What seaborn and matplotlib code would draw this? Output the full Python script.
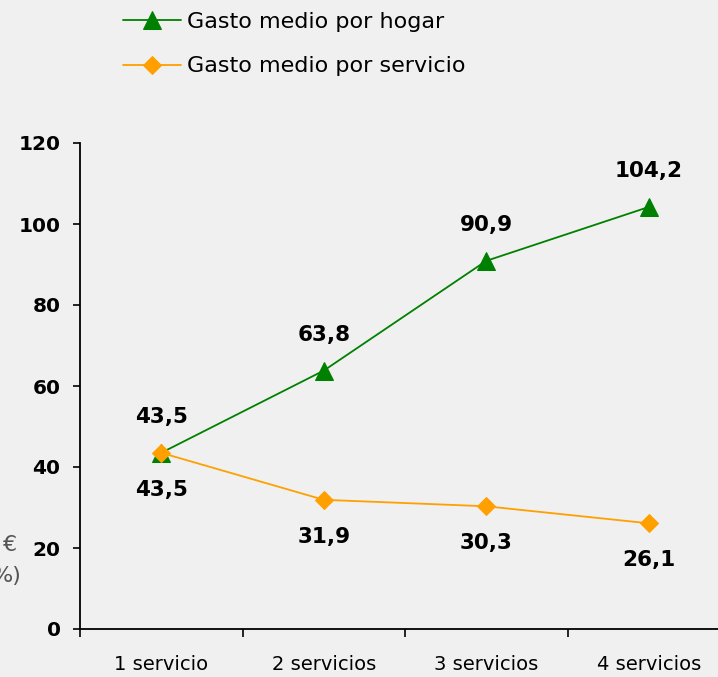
import matplotlib
matplotlib.use("Agg")
import matplotlib.pyplot as plt
import seaborn as sns
import pandas as pd
from matplotlib.ticker import FixedLocator

categories = ["1 servicio", "2 servicios", "3 servicios", "4 servicios"]
gasto_hogar = [43.5, 63.8, 90.9, 104.2]
gasto_servicio = [43.5, 31.9, 30.3, 26.1]
label_hogar = ["43,5", "63,8", "90,9", "104,2"]
label_servicio = ["43,5", "31,9", "30,3", "26,1"]
yticks = [0, 20, 40, 60, 80, 100, 120]

BG = "#f0f0f0"
GREEN = "#008000"
ORANGE = "#ffa000"

sns.set_theme(style="white")
plt.rcParams["font.family"] = ["DejaVu Sans"]
plt.rcParams["text.color"] = "black"
plt.rcParams["xtick.labelcolor"] = "black"
plt.rcParams["ytick.labelcolor"] = "black"

fig = plt.figure(figsize=(7.18, 6.77), dpi=100, facecolor=BG)
ax = fig.add_axes([80/718, 48/677, 650/718, 486/677], facecolor=BG)

x = list(range(len(categories)))
df_h = pd.DataFrame({"x": x, "y": gasto_hogar})
df_s = pd.DataFrame({"x": x, "y": gasto_servicio})

sns.lineplot(data=df_h, x="x", y="y", ax=ax, color=GREEN, marker="^",
             markersize=13, markeredgecolor=GREEN, linewidth=1.3,
             label="Gasto medio por hogar", legend=False, sort=False)
sns.lineplot(data=df_s, x="x", y="y", ax=ax, color=ORANGE, marker="D",
             markersize=9.5, markeredgecolor=ORANGE, linewidth=1.3,
             label="Gasto medio por servicio", legend=False, sort=False)

for xi, v, t in zip(x, gasto_hogar, label_hogar):
    ax.annotate(t, (xi, v), xytext=(0, 36), textcoords="offset pixels",
                ha="center", va="center", fontsize=15.5, fontweight="bold",
                color="black")
for xi, v, t in zip(x, gasto_servicio, label_servicio):
    ax.annotate(t, (xi, v), xytext=(0, -37), textcoords="offset pixels",
                ha="center", va="center", fontsize=15.5, fontweight="bold",
                color="black")

ax.set_xlim(-0.5, 3.5)
ax.set_ylim(0, 120)
ax.set_yticks(yticks)
ax.set_yticklabels([str(v) for v in yticks], fontsize=14.5, fontweight="bold",
                   color="black")
ax.set_xticks(x)
ax.set_xticklabels(categories, fontsize=14, color="black")
ax.xaxis.set_minor_locator(FixedLocator([-0.5, 0.5, 1.5, 2.5, 3.5]))
ax.tick_params(axis="x", which="major", length=0, pad=19)
ax.tick_params(axis="x", which="minor", length=6, width=1.2, direction="out",
               color="black", bottom=True)
ax.tick_params(axis="y", which="major", length=5, width=1.2, direction="out",
               color="black", left=True, pad=9)
ax.set_xlabel("")
ax.set_ylabel("")
for s in ["top", "right"]:
    ax.spines[s].set_visible(False)
for s in ["left", "bottom"]:
    ax.spines[s].set_color("black")
    ax.spines[s].set_linewidth(1.3)

fig.text(17/718, 1 - 545/677, "€", ha="right", va="center", fontsize=16,
         color="#555555")
fig.text(22/718, 1 - 576/677, "%)", ha="right", va="center", fontsize=16,
         color="#555555")

handles, labels = ax.get_legend_handles_labels()
leg = fig.legend(handles, labels, loc="upper left",
                 bbox_to_anchor=(123/718, 1 - 12/677), frameon=False,
                 fontsize=16, handlelength=2.6, handletextpad=0.3,
                 labelspacing=1.1, borderpad=0, borderaxespad=0)
for t in leg.get_texts():
    t.set_color("black")

fig.savefig("out.png", dpi=100, facecolor=BG)
